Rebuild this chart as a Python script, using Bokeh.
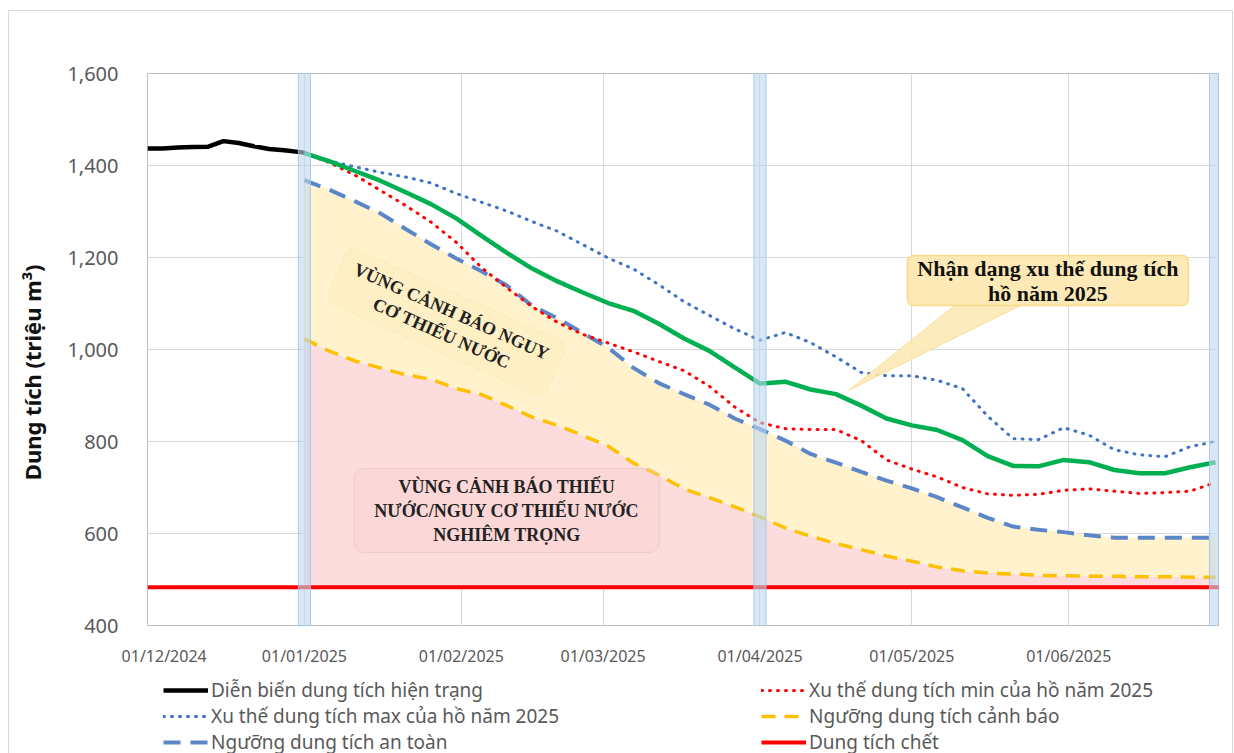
import pandas as pd
from bokeh.plotting import figure
from bokeh.layouts import column
from bokeh.models import (DatetimeTickFormatter, FixedTicker, NumeralTickFormatter,
                          Range1d, Legend, LegendItem, Label)
from bokeh.embed import file_html
from bokeh.resources import INLINE

# ---------------- data ----------------
cur_dates = ["2024-12-01", "2024-12-04", "2024-12-07", "2024-12-10", "2024-12-13",
             "2024-12-16", "2024-12-19", "2024-12-22", "2024-12-25", "2024-12-28", "2025-01-01"]
cur_vals = [1437, 1437, 1439, 1440, 1441, 1453, 1449, 1442, 1436, 1433, 1428]

fc_dates = pd.date_range("2025-01-01", "2025-06-30", freq="5D")
trend_vals = [1427, 1409, 1388, 1367, 1342, 1316, 1285, 1247, 1210, 1176, 1148, 1124, 1101,
              1084, 1056, 1024, 997, 961, 926, 930, 913, 903, 878, 850, 835, 825, 803, 768,
              747, 746, 760, 755, 738, 731, 731, 744, 755]
min_vals = [1427, 1406, 1379, 1346, 1313, 1277, 1233, 1178, 1134, 1093, 1059, 1033, 1014,
            995, 974, 954, 920, 875, 841, 828, 826, 826, 802, 760, 740, 723, 700, 686, 683,
            685, 694, 697, 692, 687, 689, 692, 711]
max_vals = [1427, 1410, 1397, 1385, 1375, 1362, 1339, 1320, 1301, 1278, 1257, 1228, 1199,
            1175, 1141, 1104, 1074, 1045, 1020, 1037, 1015, 984, 950, 943, 943, 933, 915, 855,
            806, 804, 830, 814, 782, 771, 767, 789, 800]
safe_vals = [1368, 1347, 1322, 1296, 1262, 1229, 1198, 1170, 1139, 1095, 1068, 1036, 1004,
             960, 927, 903, 880, 850, 827, 802, 773, 754, 734, 715, 698, 679, 657, 634, 615,
             608, 603, 596, 591, 591, 591, 591, 591]
warn_vals = [1023, 996, 975, 960, 945, 935, 915, 902, 878, 853, 835, 813, 790, 753, 727, 697,
             678, 658, 636, 612, 594, 578, 565, 551, 540, 527, 519, 514, 512, 509, 508, 507,
             507, 506, 506, 505, 505]
dead_dates = ["2024-12-01", "2025-07-01"]
dead_vals = [483, 483]
dead_level = 483

band_dates = ["2025-01-01", "2025-04-01", "2025-06-30"]
month_ticks = ["2024-12-01", "2025-01-01", "2025-02-01", "2025-03-01",
               "2025-04-01", "2025-05-01", "2025-06-01"]

legend_labels = ["Diễn biến dung tích hiện trạng", "Xu thế dung tích min của hồ năm 2025",
                 "Xu thế dung tích max của hồ năm 2025", "Ngưỡng dung tích cảnh báo",
                 "Ngưỡng dung tích an toàn", "Dung tích chết"]

zone1_text = "VÙNG CẢNH BÁO NGUY\nCƠ THIẾU NƯỚC"
zone2_text = "VÙNG CẢNH BÁO THIẾU\nNƯỚC/NGUY CƠ THIẾU NƯỚC\nNGHIÊM TRỌNG"
callout_text = "Nhận dạng xu thế dung tích\nhồ năm 2025"
y_title = "Dung tích (triệu m³)"


def ms(d):
    return (pd.Timestamp(d) - pd.Timestamp("1970-01-01")) // pd.Timedelta("1ms")


cur_dt = pd.to_datetime(cur_dates)
dead_dt = pd.to_datetime(dead_dates)
band_dt = pd.to_datetime(band_dates)

# styles shared by plot lines and legend samples
S_CUR = dict(line_color="black", line_width=4.5)
S_TREND = dict(line_color="#00B050", line_width=4.5)
S_MIN = dict(line_color="#FF0000", line_width=3, line_dash="1 7", line_cap="round")
S_MAX = dict(line_color="#3F74C4", line_width=3, line_dash="1 7", line_cap="round")
S_WARN = dict(line_color="#FFC000", line_width=3.5, line_dash="14 9")
S_SAFE = dict(line_color="#5B87C8", line_width=4, line_dash="17 10")
S_DEAD = dict(line_color="#FF0000", line_width=4)

# ---------------- main figure ----------------
p = figure(frame_width=1071, frame_height=552,
           min_border_left=138, min_border_right=14, min_border_top=62, min_border_bottom=40,
           x_axis_type="datetime", output_backend="svg", toolbar_location=None,
           x_range=Range1d(ms("2024-12-01"), ms("2025-06-30 14:00")),
           y_range=Range1d(400, 1600))
p.outline_line_color = "#BFBFBF"
p.outline_line_width = 1
p.background_fill_color = "white"

# fills
p.varea(x=fc_dates, y1=[dead_level] * len(fc_dates), y2=warn_vals, fill_color="#FCDCDC", fill_alpha=1.0)
p.varea(x=fc_dates, y1=warn_vals, y2=safe_vals, fill_color="#FFF2CC", fill_alpha=1.0)

# lines
p.line(dead_dt, dead_vals, **S_DEAD)
p.line(fc_dates, warn_vals, **S_WARN)
p.line(fc_dates, safe_vals, **S_SAFE)
p.line(fc_dates, min_vals, **S_MIN)
p.line(fc_dates, max_vals, **S_MAX)
p.line(fc_dates, trend_vals, **S_TREND)
p.line(cur_dt, cur_vals, **S_CUR)

# vertical bands
p.vbar(x=band_dt, width=2.4 * 86400000, top=1600, bottom=400,
       fill_color="#BDD7EE", fill_alpha=0.6, line_color="#9DC3E6", line_alpha=0.8, line_width=1)

# callout pointer
p.patch([ms("2025-05-09 17:00"), ms("2025-05-22 22:00"), ms("2025-04-18 12:00")],
        [1098, 1098, 911], fill_color="#FCE9B5", fill_alpha=0.9, line_color="#F9D98A", line_alpha=0.8)

# annotation labels (padding = (horizontal, vertical))
p.add_layout(Label(x=ms("2025-01-29 02:00"), y=1059, text=zone1_text, angle=-0.42,
                   text_font="Liberation Serif", text_font_style="bold", text_font_size="18px",
                   text_color="#222222", text_align="center", text_baseline="middle",
                   background_fill_color="#FBE3AE", background_fill_alpha=0.22,
                   border_line_color="#F5D58F", border_line_alpha=0.2, border_radius=8,
                   padding=(14, 8)))
p.add_layout(Label(x=ms("2025-02-10"), y=650, text=zone2_text,
                   text_font="Liberation Serif", text_font_style="bold", text_font_size="18px",
                   text_color="#222222", text_align="center", text_baseline="middle",
                   background_fill_color="#F9CFCF", background_fill_alpha=0.35,
                   border_line_color="#EBC0C0", border_line_alpha=0.6, border_radius=10,
                   padding=(20, 8)))
p.add_layout(Label(x=ms("2025-05-27 21:00"), y=1150, text=callout_text,
                   text_font="Liberation Serif", text_font_style="bold", text_font_size="22px",
                   text_color="#111111", text_align="center", text_baseline="middle",
                   text_line_height=1.0,
                   background_fill_color="#FCE9B5", background_fill_alpha=1.0,
                   border_line_color="#F9D98A", border_line_width=1.5, border_radius=6,
                   padding=(10, 0)))

# axes
tick_ms = [ms(d) for d in month_ticks]
p.xaxis.ticker = FixedTicker(ticks=tick_ms)
fmt = "%d/%m/%Y"
p.xaxis.formatter = DatetimeTickFormatter(milliseconds=fmt, seconds=fmt, minsec=fmt, minutes=fmt,
                                          hourmin=fmt, hours=fmt, days=fmt, months=fmt, years=fmt)
# first label sits inside the plot edge, as in the original
p.xaxis.major_label_overrides = {tick_ms[0]: "\u00a0" * 8 + "01/12/2024"}
p.yaxis.ticker = FixedTicker(ticks=[400, 600, 800, 1000, 1200, 1400, 1600])
p.yaxis.formatter = NumeralTickFormatter(format="0,0")
for ax in (p.xaxis, p.yaxis):
    ax.axis_line_color = None
    ax.major_tick_line_color = None
    ax.minor_tick_line_color = None
    ax.major_tick_out = 0
    ax.major_tick_in = 0
    ax.minor_tick_out = 0
    ax.major_label_text_font = "Noto Sans"
    ax.major_label_text_color = "#595959"
p.xaxis.major_label_text_font_size = "16px"
p.yaxis.major_label_text_font_size = "20px"
p.xaxis.major_label_standoff = 19
p.yaxis.major_label_standoff = 29
p.yaxis.axis_label = y_title + "\u00a0" * 8
p.yaxis.axis_label_text_font = "Noto Sans"
p.yaxis.axis_label_text_font_style = "bold"
p.yaxis.axis_label_text_font_size = "22px"
p.yaxis.axis_label_text_color = "#111111"
p.yaxis.axis_label_standoff = 17

p.xgrid.ticker = p.xaxis.ticker
p.grid.grid_line_color = "#D9D9D9"
p.grid.grid_line_width = 1

# ---------------- legend strip ----------------
lf = figure(width=1223, height=87, min_border=0, toolbar_location=None, output_backend="svg",
            x_range=Range1d(0, 1), y_range=Range1d(0, 1))
lf.axis.visible = False
lf.grid.visible = False
lf.outline_line_color = None
# hidden sample renderers (outside the visible range) that carry the legend styles
lr = [lf.line([-5, -4], [-5, -4], **s) for s in (S_CUR, S_MIN, S_MAX, S_WARN, S_SAFE, S_DEAD)]
legend = Legend(items=[LegendItem(label=t, renderers=[r]) for t, r in zip(legend_labels, lr)],
                location=(16, 1), orientation="horizontal", ncols=2,
                padding=0, margin=0, spacing=0, glyph_width=45, glyph_height=20,
                label_height=20, label_width=550, label_standoff=3, border_line_color=None,
                background_fill_alpha=0, label_text_font="Noto Sans",
                label_text_font_size="19px", label_text_color="#595959")
lf.add_layout(legend, "center")

layout = column(p, lf, spacing=0,
                styles={"border": "1px solid #D9D9D9", "margin-left": "8px", "margin-top": "10px"})

open("out.html", "w").write(file_html(layout, INLINE))
